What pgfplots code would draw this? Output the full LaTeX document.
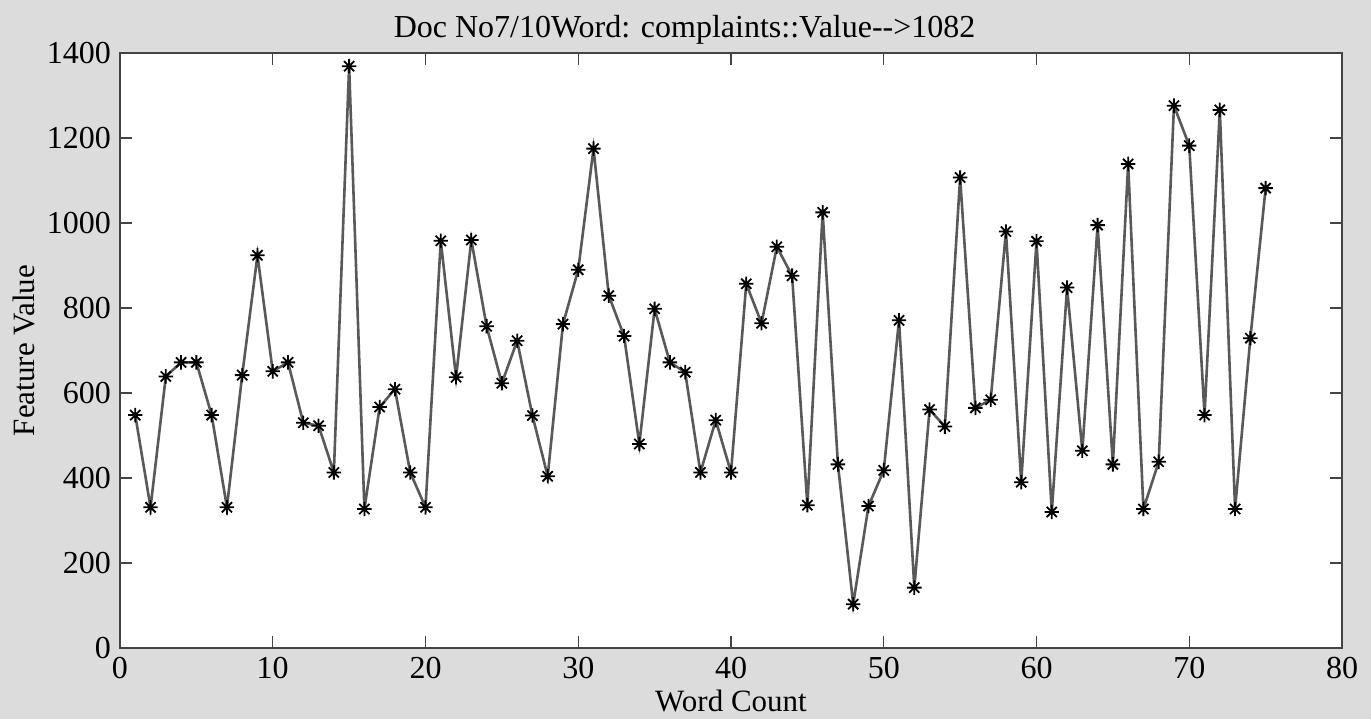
\documentclass[border=0pt]{standalone}
\usepackage{pgfplots}
\pgfplotsset{compat=1.18}
\usepackage{fontspec}
\setmainfont{Liberation Serif}
\usetikzlibrary{backgrounds}
\definecolor{bg}{HTML}{DCDCDC}
\definecolor{axc}{HTML}{444444}
\pgfdeclareplotmark{star8}{%
  \pgfpathmoveto{\pgfqpoint{-\pgfplotmarksize}{0pt}}%
  \pgfpathlineto{\pgfqpoint{\pgfplotmarksize}{0pt}}%
  \pgfpathmoveto{\pgfqpoint{0pt}{-\pgfplotmarksize}}%
  \pgfpathlineto{\pgfqpoint{0pt}{\pgfplotmarksize}}%
  \pgfpathmoveto{\pgfqpoint{-0.707\pgfplotmarksize}{-0.707\pgfplotmarksize}}%
  \pgfpathlineto{\pgfqpoint{0.707\pgfplotmarksize}{0.707\pgfplotmarksize}}%
  \pgfpathmoveto{\pgfqpoint{-0.707\pgfplotmarksize}{0.707\pgfplotmarksize}}%
  \pgfpathlineto{\pgfqpoint{0.707\pgfplotmarksize}{-0.707\pgfplotmarksize}}%
  \pgfusepathqstroke}
\pgfplotstableread{
x y
1 548
2 331
3 639
4 672
5 672
6 548
7 331
8 642
9 924
10 651
11 672
12 530
13 523
14 413
15 1369
16 327
17 567
18 609
19 413
20 331
21 958
22 637
23 960
24 757
25 623
26 723
27 547
28 404
29 762
30 890
31 1175
32 829
33 734
34 480
35 798
36 672
37 649
38 413
39 536
40 413
41 857
42 764
43 944
44 876
45 336
46 1025
47 432
48 103
49 334
50 418
51 771
52 142
53 561
54 521
55 1107
56 565
57 584
58 980
59 390
60 957
61 320
62 848
63 464
64 995
65 432
66 1139
67 327
68 438
69 1276
70 1182
71 548
72 1266
73 327
74 729
75 1082
}\datatable
\begin{document}
\begin{tikzpicture}
\begin{axis}[
  at={(0,0)}, anchor=south west,
  width=611pt, height=297.5pt, scale only axis,
  xmin=0, xmax=80, ymin=0, ymax=1400,
  xtick={0,10,...,80}, ytick={0,200,...,1400},
  tick align=inside, major tick length=6pt,
  axis line style={axc, line width=0.9pt},
  every tick/.style={axc, line width=0.6pt},
  axis background/.style={fill=white},
  /pgf/number format/assume math mode=true,
  /pgf/number format/1000 sep={},
  ticklabel style={font=\fontsize{16}{16}\selectfont},
  xticklabel style={yshift=-1pt},
  yticklabel style={xshift=-1pt},
  title={Doc No7/10Word: complaints::Value-{}->1082},
  title style={font=\fontsize{16}{16}\selectfont, at={(0.462,1)}, yshift=-5pt},
  xlabel={Word Count}, ylabel={Feature Value},
  label style={font=\fontsize{15.5}{16}\selectfont},
  xlabel style={yshift=1pt},
  ylabel style={yshift=-1pt},
]
\addplot[color=black!65, line width=1.3pt, mark=star8, mark size=3.6pt,
  mark options={black, line width=0.9pt}] table[x=x,y=y] {\datatable};
\end{axis}
\begin{scope}[on background layer]
\fill[bg] (-60pt,-35.5pt) rectangle (625.5pt,324pt);
\end{scope}
\end{tikzpicture}
\end{document}
